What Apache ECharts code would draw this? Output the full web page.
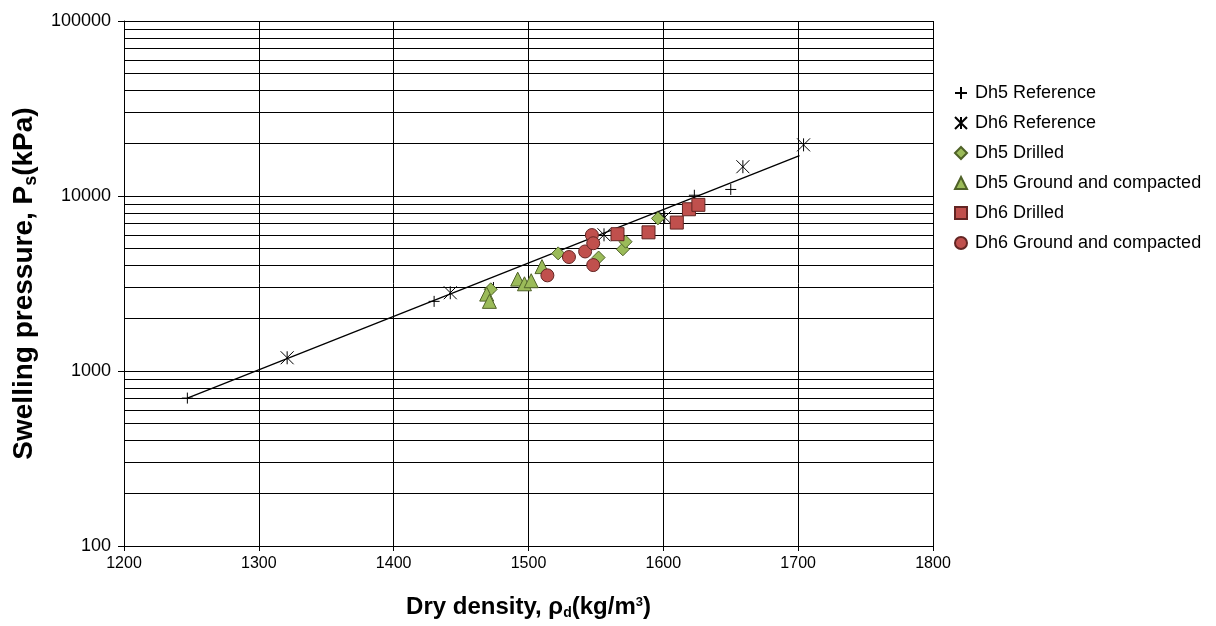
<!DOCTYPE html>
<html>
<head>
<meta charset="utf-8">
<script src="https://cdn.jsdelivr.net/npm/echarts@6/dist/echarts.min.js"></script>
<style>
  html, body { margin: 0; padding: 0; background: #fff; }
</style>
</head>
<body>
<div id="main" style="width:1216px;height:626px;"></div>
<script>
// data: [dry density kg/m3, swelling pressure kPa]
var dh5Reference = [[1247, 700], [1430, 2500], [1474, 3000], [1623, 10100], [1650, 10900]];
var dh6Reference = [[1321, 1190], [1442, 2800], [1556, 6000], [1601, 7550], [1659, 14700], [1704, 19600]];
var dh5Drilled = [[1472, 2930], [1522, 4700], [1552, 4450], [1570, 4960], [1572, 5480], [1596, 7450]];
var dh5Ground = [[1469, 2750], [1471, 2500], [1492, 3350], [1497, 3150], [1502, 3280], [1510, 3950]];
var dh6Drilled = [[1566, 6050], [1589, 6200], [1610, 7050], [1619, 8400], [1626, 8900]];
var dh6Ground = [[1514, 3520], [1530, 4480], [1542, 4820], [1547, 5980], [1548, 5370], [1548, 4030]];
var trendLine = [[1247, 700], [1701, 17000]];

// minor gridlines on the log axis
var minorGrid = [200, 300, 400, 500, 600, 700, 800, 900,
  2000, 3000, 4000, 5000, 6000, 7000, 8000, 9000,
  20000, 30000, 40000, 50000, 60000, 70000, 80000, 90000];

var names = ['Dh5 Reference', 'Dh6 Reference', 'Dh5 Drilled', 'Dh5 Ground and compacted', 'Dh6 Drilled', 'Dh6 Ground and compacted'];

var green = '#9BBB59', greenEdge = '#4F6228';
var red = '#C0504D', redEdge = '#632523';
var font = 'Liberation Sans, Arial, sans-serif';

var myChart = echarts.init(document.getElementById('main'));

var option = {
  animation: false,
  backgroundColor: '#fff',
  grid: { left: 124, right: 283, top: 21, bottom: 80, outerBoundsMode: 'none', containLabel: false },
  legend: {
    data: names,
    orient: 'vertical',
    left: 949,
    top: 79,
    itemGap: 12,
    itemWidth: 12,
    itemHeight: 12,
    textStyle: { fontFamily: font, fontSize: 18, color: '#000', padding: [0, 0, 0, 3] }
  },
  xAxis: {
    type: 'value',
    min: 1200,
    max: 1800,
    interval: 100,
    name: '{a|Dry density, ρ}{s|d}{a|(kg/m}{p|3}{a|)}',
    nameLocation: 'middle',
    nameGap: 47,
    nameTextStyle: {
      rich: {
        a: { fontFamily: font, fontSize: 24, fontWeight: 'bold', color: '#000', lineHeight: 28 },
        s: { fontFamily: font, fontSize: 14, fontWeight: 'bold', color: '#000', lineHeight: 28, padding: [12, 0, 0, 0] },
        p: { fontFamily: font, fontSize: 13, fontWeight: 'bold', color: '#000', lineHeight: 28, padding: [0, 0, 10, 0] }
      }
    },
    axisLine: { lineStyle: { color: '#000', width: 1 } },
    axisTick: { show: true, length: 5, lineStyle: { color: '#000' } },
    axisLabel: {
      fontFamily: font, fontSize: 16, color: '#000', margin: 10,
      formatter: function (v) { return String(v); }
    },
    splitLine: { show: true, lineStyle: { color: '#000', width: 1 } }
  },
  yAxis: {
    type: 'log',
    logBase: 10,
    min: 100,
    max: 100000,
    name: '{a|Swelling pressure, P}{s|s}{a|(kPa)}',
    nameLocation: 'middle',
    nameRotate: 90,
    nameGap: 84,
    nameTextStyle: {
      rich: {
        a: { fontFamily: font, fontSize: 28, fontWeight: 'bold', color: '#000', lineHeight: 32 },
        s: { fontFamily: font, fontSize: 18, fontWeight: 'bold', color: '#000', lineHeight: 32, padding: [14, 0, 0, 0] }
      }
    },
    axisLine: { show: true, lineStyle: { color: '#000', width: 1 } },
    axisTick: { show: true, length: 6, lineStyle: { color: '#000' } },
    axisLabel: {
      fontFamily: font, fontSize: 18, color: '#000', margin: 13,
      formatter: function (v) { return String(Math.round(v)); }
    },
    splitLine: { show: true, lineStyle: { color: '#000', width: 1 } }
  },
  series: [
    {
      name: 'trend',
      type: 'line',
      data: trendLine,
      symbol: 'none',
      silent: true,
      lineStyle: { color: '#000', width: 1.3 },
      z: 3,
      markLine: {
        silent: true,
        symbol: 'none',
        label: { show: false },
        lineStyle: { color: '#000', width: 1, type: 'solid' },
        data: minorGrid.map(function (v) { return { yAxis: v }; })
      }
    },
    {
      name: names[0],
      type: 'scatter',
      data: dh5Reference,
      symbol: 'path://M0,5L10,5M5,0L5,10',
      symbolSize: 11,
      itemStyle: { color: 'rgba(0,0,0,0)', borderColor: '#000', borderWidth: 1, opacity: 1 },
      z: 4
    },
    {
      name: names[1],
      type: 'scatter',
      data: dh6Reference,
      symbol: 'path://M0,0L10,10M10,0L0,10M5,0L5,10',
      symbolSize: 13,
      itemStyle: { color: 'rgba(0,0,0,0)', borderColor: '#000', borderWidth: 1, opacity: 1 },
      z: 4
    },
    {
      name: names[2],
      type: 'scatter',
      data: dh5Drilled,
      symbol: 'diamond',
      symbolSize: 13,
      itemStyle: { color: green, borderColor: greenEdge, borderWidth: 1, opacity: 1 },
      z: 5
    },
    {
      name: names[3],
      type: 'scatter',
      data: dh5Ground,
      symbol: 'triangle',
      symbolSize: 14,
      itemStyle: { color: green, borderColor: greenEdge, borderWidth: 1, opacity: 1 },
      z: 5
    },
    {
      name: names[4],
      type: 'scatter',
      data: dh6Drilled,
      symbol: 'rect',
      symbolSize: 13,
      itemStyle: { color: red, borderColor: redEdge, borderWidth: 1, opacity: 1 },
      z: 5
    },
    {
      name: names[5],
      type: 'scatter',
      data: dh6Ground,
      symbol: 'circle',
      symbolSize: 13,
      itemStyle: { color: red, borderColor: redEdge, borderWidth: 1, opacity: 1 },
      z: 5
    }
  ]
};

myChart.setOption(option);
</script>
</body>
</html>
